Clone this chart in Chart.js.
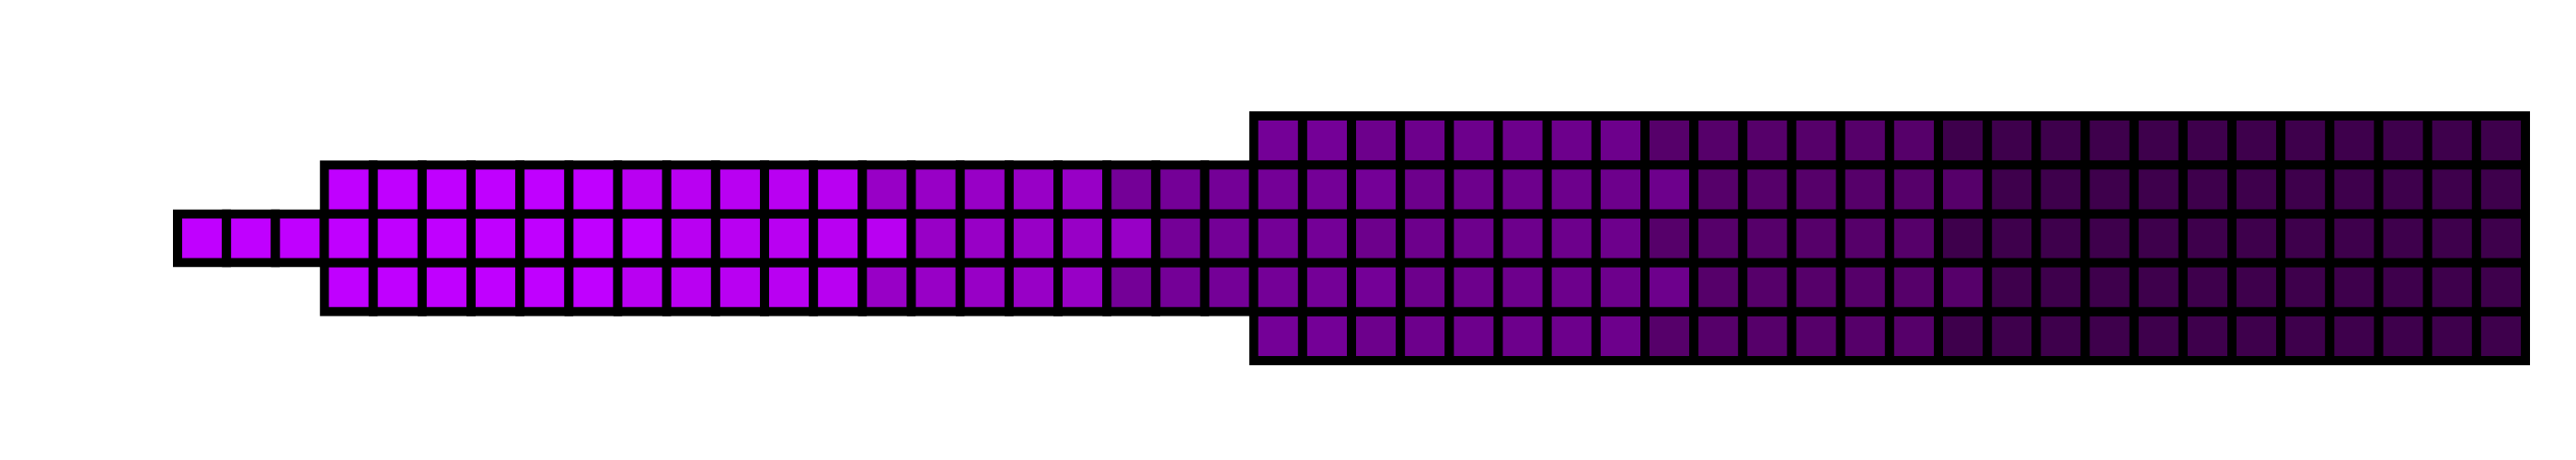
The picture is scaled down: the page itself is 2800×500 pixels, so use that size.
<!DOCTYPE html>
<html>
<head>
<meta charset="utf-8">
<script src="https://cdn.jsdelivr.net/npm/chart.js@4.4.1/dist/chart.umd.min.js"></script>
<style>
  html, body { margin: 0; padding: 0; background: #ffffff; }
  #wrap { width: 2800px; height: 500px; }
</style>
</head>
<body>
<div id="wrap"><canvas id="c" width="2800" height="500"></canvas></div>
<script>
// Categories: one per column of cells
const columns = ['1','2','3','4','5','6','7','8','9','10','11','12','13','14','15','16',
  '17','18','19','20','21','22','23','24','25','26','27','28','29','30','31','32',
  '33','34','35','36','37','38','39','40','41','42','43','44','45','46','47','48'];

// Level (colour class) of each cell, one array per row; null = no cell
const rowTop = [null,null,null,null,null,null,null,null,null,null,null,null,null,null,null,null,
  null,null,null,null,null,null,3,3,4,4,4,4,4,4,5,5,5,5,5,5,6,6,6,6,6,6,6,6,6,6,6,6];
const rowUpper = [null,null,null,0,0,0,0,0,0,1,1,1,1,1,2,2,2,2,2,3,3,3,3,3,3,4,4,4,4,4,4,
  5,5,5,5,5,5,6,6,6,6,6,6,6,6,6,6,6];
const rowMiddle = [0,0,0,0,0,0,0,0,0,0,1,1,1,1,1,2,2,2,2,2,3,3,3,3,4,4,4,4,4,4,5,5,5,5,5,5,
  6,6,6,6,6,6,6,6,6,6,6,6];
const rowLower = [null,null,null,0,0,0,0,0,0,1,1,1,1,1,2,2,2,2,2,3,3,3,3,3,3,4,4,4,4,4,4,
  5,5,5,5,5,5,6,6,6,6,6,6,6,6,6,6,6];
const rowBottom = [null,null,null,null,null,null,null,null,null,null,null,null,null,null,null,null,
  null,null,null,null,null,null,3,3,4,4,4,4,4,4,5,5,5,5,5,5,6,6,6,6,6,6,6,6,6,6,6,6];

// Row position (centre of the row on the y scale)
const rowPositions = [2, 1, 0, -1, -2];
const rows = [rowTop, rowUpper, rowMiddle, rowLower, rowBottom];

// Colour for each level
const palette = ['#c000ff', '#b900f2', '#9800c6', '#740097', '#6d008c', '#56006a', '#3e004c'];

const datasets = rows.map((row, i) => {
  const y = rowPositions[i];
  return {
    label: 'row ' + (i + 1),
    data: row.map(v => v === null ? null : [y - 0.5, y + 0.5]),
    backgroundColor: row.map(v => v === null ? 'rgba(0,0,0,0)' : palette[v]),
    borderColor: '#000000',
    borderWidth: 10,
    inflateAmount: 5,
    borderSkipped: false,
    barPercentage: 1,
    categoryPercentage: 1,
    grouped: false,
    clip: false
  };
});

new Chart(document.getElementById('c'), {
  type: 'bar',
  data: { labels: columns, datasets: datasets },
  options: {
    responsive: false,
    animation: false,
    events: [],
    layout: { padding: { left: 193, right: 55, top: 18, bottom: 0 } },
    plugins: { legend: { display: false }, tooltip: { enabled: false }, title: { display: false } },
    scales: {
      x: { display: false, offset: true },
      y: { display: false, min: -4.53, max: 4.53 }
    }
  }
});
</script>
</body>
</html>
